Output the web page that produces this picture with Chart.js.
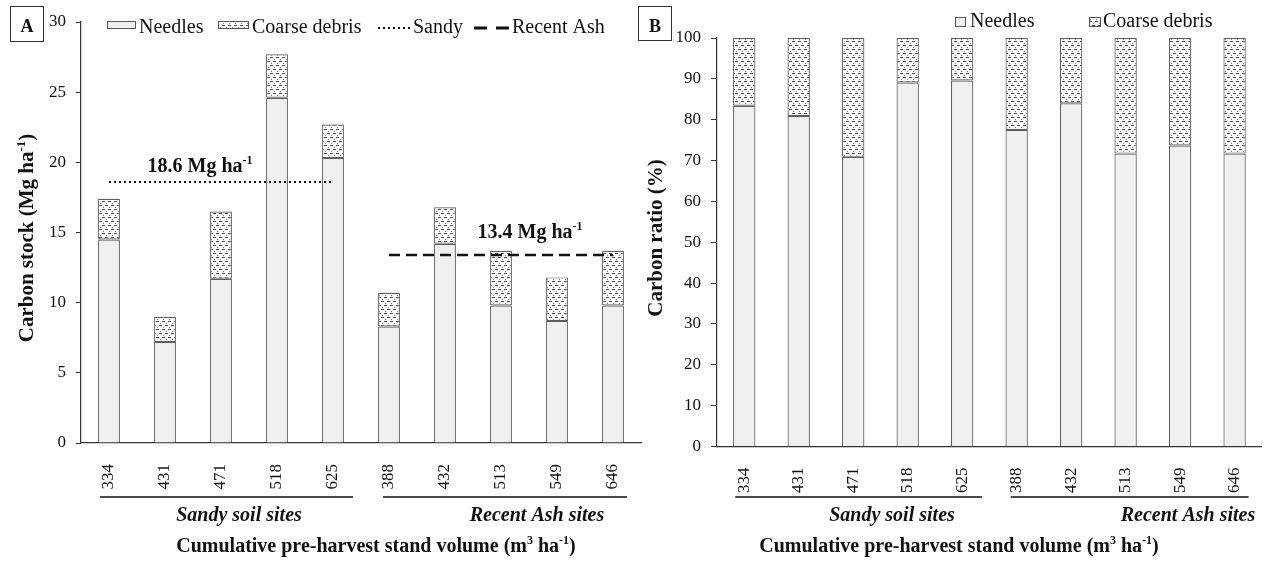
<!DOCTYPE html>
<html><head><meta charset="utf-8">
<script src="https://cdn.jsdelivr.net/npm/chart.js@4.4.1/dist/chart.umd.min.js"></script>
<style>
html,body{margin:0;padding:0;background:#fff;}
#wrap{position:relative;width:1268px;height:561px;overflow:hidden;background:#fff;}
.panel{position:absolute;top:0;height:561px;}
#pa{left:0;width:660px;}
#pb{left:630px;width:638px;}
</style></head><body>
<div id="wrap">
<div class="panel" id="pa"><canvas id="ca" width="660" height="561"></canvas></div>
<div class="panel" id="pb"><canvas id="cb" width="638" height="561"></canvas></div>
</div>
<script>
// ---------- data ----------
const siteLabels = ['334','431','471','518','625','388','432','513','549','646'];
const groupNames = ['Sandy soil sites','Recent Ash sites'];
const needlesStock = [14.5, 7.2, 11.7, 24.6, 20.3, 8.3, 14.2, 9.8, 8.7, 9.8];
const coarseStock  = [2.9, 1.8, 4.8, 3.1, 2.4, 2.4, 2.6, 3.9, 3.1, 3.9];
const sandyMean = 18.6;
const ashMean = 13.4;
const sandyMeanLine = [18.6, 18.6, 18.6, 18.6, 18.6, null, null, null, null, null];
const ashMeanLine   = [null, null, null, null, null, 13.4, 13.4, 13.4, 13.4, 13.4];
const needlesRatio = [83.4, 80.9, 70.9, 89.1, 89.6, 77.5, 84.0, 71.7, 73.7, 71.7];
const coarseRatio  = [16.6, 19.1, 29.1, 10.9, 10.4, 22.5, 16.0, 28.3, 26.3, 28.3];
const stockTicks = [0, 5, 10, 15, 20, 25, 30];
const ratioTicks = [0, 10, 20, 30, 40, 50, 60, 70, 80, 90, 100];

// ---------- style helpers ----------
const FONT = '"Liberation Serif","Times New Roman",serif';
const INK = '#111';

function makePattern(){
  const c = document.createElement('canvas'); c.width = 6; c.height = 8;
  const g = c.getContext('2d');
  g.fillStyle = '#fff'; g.fillRect(0,0,6,8);
  g.fillStyle = '#444'; g.fillRect(0,1,3,1); g.fillRect(3,5,3,1);
  g.fillStyle = '#777'; g.fillRect(4,3,1,1); g.fillRect(1,7,1,1);
  return g.createPattern(c, 'repeat');
}
const coarseFill = makePattern();

function richText(ctx, parts, x, y, align, size, weight, style){
  const main = `${style||'normal'} ${weight} ${size}px ${FONT}`;
  const supS = Math.round(size*0.62);
  const sup = `${style||'normal'} ${weight} ${supS}px ${FONT}`;
  let total = 0; const w = [];
  parts.forEach(p => { ctx.font = p.sup ? sup : main; const m = ctx.measureText(p.t).width; w.push(m); total += m; });
  let cx = align === 'center' ? x - total/2 : (align === 'right' ? x - total : x);
  ctx.textAlign = 'left'; ctx.textBaseline = 'alphabetic';
  parts.forEach((p,i) => { ctx.font = p.sup ? sup : main; ctx.fillText(p.t, cx, p.sup ? y - size*0.40 : y); cx += w[i]; });
}
function vText(ctx, parts, bx, cy, size){
  ctx.save(); ctx.translate(bx, cy); ctx.rotate(-Math.PI/2);
  richText(ctx, parts, 0, 0, 'center', size, 'bold');
  ctx.restore();
}
function letterBox(ctx, L, x, y, w, h){
  ctx.save(); ctx.lineWidth = 1; ctx.strokeStyle = '#333'; ctx.strokeRect(x, y, w, h);
  ctx.fillStyle = INK; ctx.font = `bold 18px ${FONT}`; ctx.textAlign = 'center'; ctx.textBaseline = 'alphabetic';
  ctx.fillText(L, x + w/2, y + 25); ctx.restore();
}
function swatch(ctx, x, y, w, h, fill){
  ctx.save(); ctx.fillStyle = fill; ctx.fillRect(x, y, w, h);
  ctx.strokeStyle = '#555'; ctx.lineWidth = 1; ctx.strokeRect(x + .5, y + .5, w, h); ctx.restore();
}
function plainText(ctx, t, x, y, size){
  ctx.font = `normal 400 ${size}px ${FONT}`; ctx.fillStyle = INK; ctx.textAlign = 'left'; ctx.textBaseline = 'alphabetic';
  ctx.fillText(t, x, y);
}
function groups(ctx, xs, sandyC, ashC, titleC){
  ctx.save(); ctx.strokeStyle = '#111'; ctx.lineWidth = 1.6; ctx.setLineDash([]);
  const y = 497;
  ctx.beginPath();
  ctx.moveTo(xs.getPixelForValue(0) - 9, y); ctx.lineTo(xs.getPixelForValue(4) + 20, y);
  ctx.moveTo(xs.getPixelForValue(5) - 6, y); ctx.lineTo(xs.getPixelForValue(9) + 14, y);
  ctx.stroke();
  ctx.fillStyle = INK;
  richText(ctx, [{t: groupNames[0]}], sandyC, 521, 'center', 20, 'bold', 'italic');
  richText(ctx, [{t: groupNames[1]}], ashC, 521, 'center', 20, 'bold', 'italic');
  richText(ctx, [{t:'Cumulative pre-harvest stand volume (m'},{t:'3',sup:true},{t:' ha'},{t:'-1',sup:true},{t:')'}], titleC, 552, 'center', 20, 'bold');
  ctx.restore();
}

const decorA = { id:'decorA', afterDraw(chart){
  const ctx = chart.ctx, xs = chart.scales.x, ys = chart.scales.y;
  ctx.save();
  letterBox(ctx, 'A', 10.5, 6.5, 33, 35);
  // legend
  swatch(ctx, 107, 21, 28, 7, '#f0f0f0');
  plainText(ctx, 'Needles', 139, 33, 20);
  swatch(ctx, 218, 21, 30, 7, coarseFill);
  plainText(ctx, 'Coarse debris', 252, 33, 20);
  ctx.strokeStyle = '#111'; ctx.lineWidth = 2; ctx.setLineDash([2,3]);
  ctx.beginPath(); ctx.moveTo(378, 28); ctx.lineTo(410, 28); ctx.stroke();
  plainText(ctx, 'Sandy', 413, 33, 20);
  ctx.setLineDash([]); ctx.lineWidth = 3;
  ctx.beginPath(); ctx.moveTo(474, 28); ctx.lineTo(487, 28); ctx.moveTo(496, 28); ctx.lineTo(509, 28); ctx.stroke();
  plainText(ctx, 'Recent Ash', 512, 33, 20);
  // mean annotations
  ctx.fillStyle = INK;
  richText(ctx, [{t: sandyMean.toFixed(1) + ' Mg ha'},{t:'-1',sup:true}], xs.getPixelForValue(0) + 91, ys.getPixelForValue(sandyMean) - 10, 'center', 20, 'bold');
  richText(ctx, [{t: ashMean.toFixed(1) + ' Mg ha'},{t:'-1',sup:true}], xs.getPixelForValue(5) + 141, ys.getPixelForValue(ashMean) - 17, 'center', 20, 'bold');
  // axis titles
  vText(ctx, [{t:'Carbon stock (Mg ha'},{t:'-1',sup:true},{t:')'}], 33, 238, 21);
  groups(ctx, xs, xs.getPixelForValue(2) + 18, xs.getPixelForValue(7) + 36, 376);
  ctx.restore();
}};

const decorB = { id:'decorB', afterDraw(chart){
  const ctx = chart.ctx, xs = chart.scales.x;
  ctx.save();
  letterBox(ctx, 'B', 8.5, 6.5, 33, 34);
  swatch(ctx, 325, 17, 10, 9, '#f0f0f0');
  plainText(ctx, 'Needles', 340, 27, 20);
  swatch(ctx, 459, 17, 11, 9, coarseFill);
  plainText(ctx, 'Coarse debris', 473, 27, 20);
  vText(ctx, [{t:'Carbon ratio (%)'}], 32, 238, 21);
  groups(ctx, xs, 262, 558, 329);
  ctx.restore();
}};

function tickFont(){ return {family: FONT, size: 17}; }

function buildOptions(cfg){
  return {
    responsive: false, animation: false,
    layout: {padding: {top: cfg.top, right: cfg.right, left: 0, bottom: 0}},
    datasets: {bar: {barPercentage: cfg.barPct, categoryPercentage: 1}},
    plugins: {legend: {display: false}, tooltip: {enabled: false}},
    scales: {
      x: {
        stacked: true,
        grid: {display: false},
        border: {display: true, color: '#333', width: 1.2},
        ticks: {minRotation: 90, maxRotation: 90, padding: 13, autoSkip: false, font: tickFont(), color: INK},
        afterFit: s => { s.height = cfg.xh; }
      },
      y: {
        stacked: true, min: cfg.min, max: cfg.max,
        afterBuildTicks: s => { s.ticks = cfg.ticks.map(v => ({value: v})); },
        grid: {display: true, drawOnChartArea: false, drawTicks: true, tickLength: cfg.tl, color: '#333', lineWidth: 1},
        border: {display: true, color: '#333', width: 1.2},
        ticks: {padding: 10, font: tickFont(), color: INK},
        afterFit: s => { s.width = cfg.yw; }
      }
    }
  };
}

new Chart(document.getElementById('ca'), {
  type: 'bar',
  data: {
    labels: siteLabels,
    datasets: [
      {type: 'line', label: 'Sandy', data: sandyMeanLine, borderColor: '#111', borderWidth: 2, borderDash: [2,3], pointRadius: 0, fill: false, stack: 'sandy', order: 0},
      {type: 'line', label: 'Recent Ash', data: ashMeanLine, borderColor: '#111', borderWidth: 2.6, borderDash: [11,6], pointRadius: 0, fill: false, stack: 'ash', order: 0},
      {label: 'Needles', data: needlesStock, backgroundColor: '#f0f0f0', borderColor: '#5e5e5e', borderWidth: 1.2, borderSkipped: 'start', stack: 's', order: 1},
      {label: 'Coarse debris', data: coarseStock, backgroundColor: coarseFill, borderColor: '#5e5e5e', borderWidth: 1.2, borderSkipped: false, stack: 's', order: 1}
    ]
  },
  options: buildOptions({top: 22, right: 19, xh: 118, yw: 81, min: 0, max: 30, ticks: stockTicks, tl: 5, barPct: 0.39}),
  plugins: [decorA]
});

new Chart(document.getElementById('cb'), {
  type: 'bar',
  data: {
    labels: siteLabels,
    datasets: [
      {label: 'Needles', data: needlesRatio, backgroundColor: '#f0f0f0', borderColor: '#5e5e5e', borderWidth: 1.2, borderSkipped: 'start', stack: 's'},
      {label: 'Coarse debris', data: coarseRatio, backgroundColor: coarseFill, borderColor: '#5e5e5e', borderWidth: 1.2, borderSkipped: false, stack: 's'}
    ]
  },
  options: buildOptions({top: 38, right: 0, xh: 114.5, yw: 87, min: 0, max: 100, ticks: ratioTicks, tl: 6, barPct: 0.41}),
  plugins: [decorB]
});
</script>
</body></html>
